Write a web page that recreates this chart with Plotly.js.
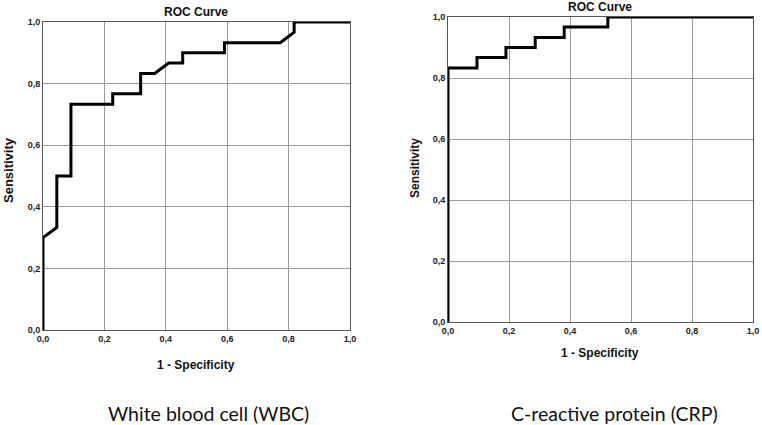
<!DOCTYPE html>
<html><head><meta charset="utf-8">
<script src="https://cdn.plot.ly/plotly-3.0.1.min.js"></script>
<style>html,body{margin:0;padding:0;background:#fff}#c{width:762px;height:425px}</style>
</head><body><div id="c"></div>
<script>
// WBC ROC curve points
const wbcFPR  = [0, 0, 0.045, 0.045, 0.091, 0.091, 0.227, 0.227, 0.318, 0.318, 0.364, 0.409, 0.455, 0.455, 0.591, 0.591, 0.773, 0.818, 0.818, 1.0];
const wbcTPR  = [0, 0.300, 0.333, 0.500, 0.500, 0.733, 0.733, 0.767, 0.767, 0.833, 0.833, 0.867, 0.867, 0.900, 0.900, 0.933, 0.933, 0.967, 1.0, 1.0];
// CRP ROC curve points
const crpFPR  = [0, 0, 0.095, 0.095, 0.190, 0.190, 0.286, 0.286, 0.381, 0.381, 0.524, 0.524, 1.0];
const crpTPR  = [0, 0.833, 0.833, 0.867, 0.867, 0.900, 0.900, 0.933, 0.933, 0.967, 0.967, 1.0, 1.0];
const tickVals = [0, 0.2, 0.4, 0.6, 0.8, 1.0];
const plotTitle = "ROC Curve";
const xTitle = "1 - Specificity";
const yTitle = "Sensitivity";
const captions = ["White blood cell (WBC)", "C-reactive protein (CRP)"];

const W = 762, H = 425;
const px = v => v / W, py = v => 1 - v / H;

const lineStyle = {color: '#000', width: 3};
const traces = [
  {x: wbcFPR, y: wbcTPR, xaxis: 'x', yaxis: 'y', mode: 'lines', line: lineStyle, showlegend: false, cliponaxis: false},
  {x: crpFPR, y: crpTPR, xaxis: 'x2', yaxis: 'y2', mode: 'lines', line: lineStyle, showlegend: false, cliponaxis: false}
];

const sans = 'Liberation Sans, Arimo, DejaVu Sans, sans-serif';
const tickFont = {family: sans, size: 9, color: '#222', weight: 'bold'};
function ax(domain, anchor) {
  return {
    domain: domain, anchor: anchor, range: [0, 1], tickvals: tickVals, tickformat: '.1f',
    showgrid: true, gridcolor: '#9a9a9a', gridwidth: 1, zeroline: false,
    showline: true, mirror: true, linecolor: '#555', linewidth: 1,
    ticks: '', tickfont: tickFont, fixedrange: true
  };
}

const labFont = {family: sans, size: 12, color: '#111', weight: 'bold'};
const capFont = {family: 'Lato, Open Sans, sans-serif', size: 19.5, color: '#111'};
function ann(text, x, y, font, angle) {
  return {text: text, x: px(x), y: py(y), xref: 'paper', yref: 'paper', showarrow: false,
          xanchor: 'center', yanchor: 'middle', font: font, textangle: angle || 0};
}

const layout = {
  width: W, height: H, margin: {l: 0, r: 0, t: 0, b: 0},
  paper_bgcolor: '#fff', plot_bgcolor: '#fff', separators: ',.',
  xaxis: ax([px(43), px(350)], 'y'),
  yaxis: ax([py(330), py(22)], 'x'),
  xaxis2: ax([px(448), px(753)], 'y2'),
  yaxis2: ax([py(322), py(17)], 'x2'),
  annotations: [
    ann(plotTitle, 196, 12, labFont),
    ann(plotTitle, 600, 7, labFont),
    ann(xTitle, 196, 365, labFont),
    ann(xTitle, 600, 353, labFont),
    ann(yTitle, 8, 170, Object.assign({}, labFont, {size: 13}), -90),
    ann(yTitle, 415, 168, labFont, -90),
    ann(captions[0], 209, 413, capFont),
    ann(captions[1], 614, 413, capFont)
  ]
};
Plotly.newPlot('c', traces, layout, {staticPlot: true, displayModeBar: false});
</script></body></html>
